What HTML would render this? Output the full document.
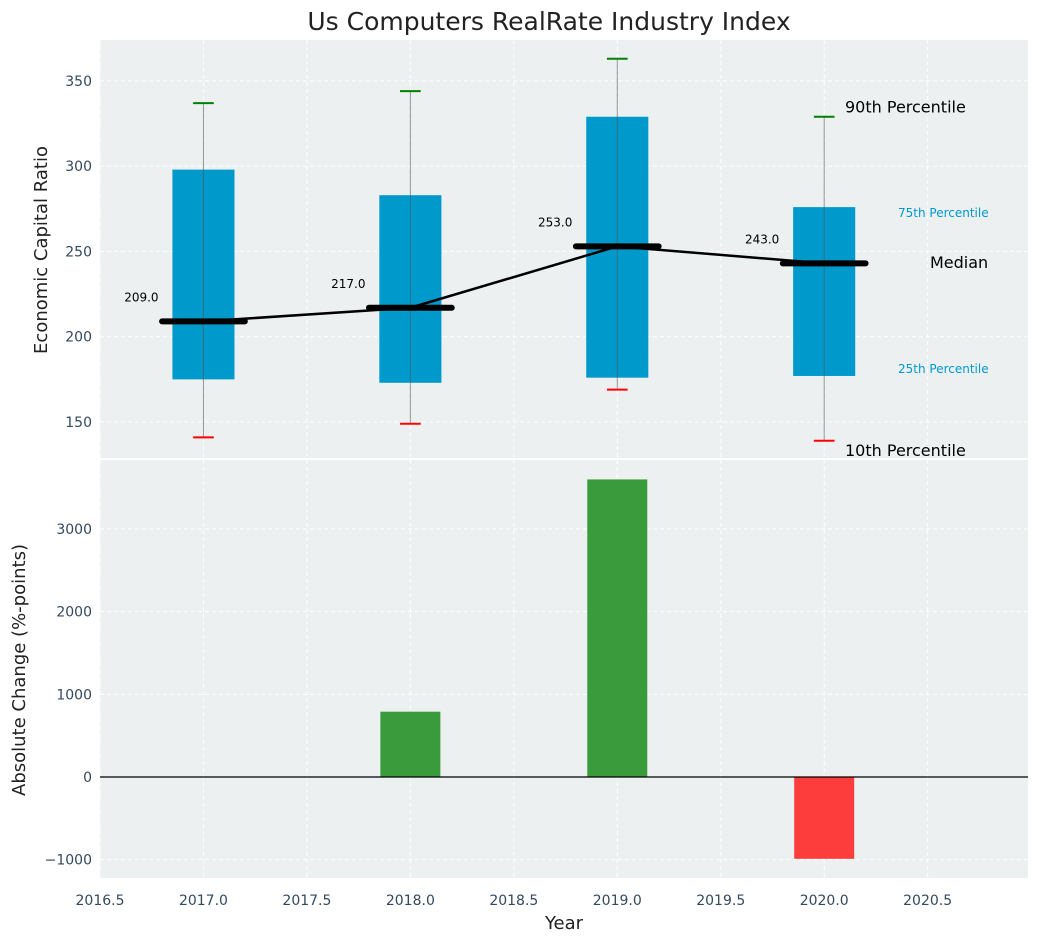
<!DOCTYPE html>
<html><head><meta charset="utf-8"><style>
body{margin:0;background:#fff;font-family:"Liberation Sans","DejaVu Sans",sans-serif}
</style></head><body>
<svg id="c" width="1039" height="942" xmlns="http://www.w3.org/2000/svg" font-family="DejaVu Sans, Liberation Sans, sans-serif"></svg>
<script>
const years=[2017,2018,2019,2020];
const p10=[141,149,169,139];
const q1=[175,173,176,177];
const med=[209,217,253,243];
const q3=[298,283,329,276];
const p90=[337,344,363,329];
const change=[0,790,3600,-990];
const xTicks=[2016.5,2017.0,2017.5,2018.0,2018.5,2019.0,2019.5,2020.0,2020.5];
const yTopTicks=[150,200,250,300,350];
const yBotTicks=[-1000,0,1000,2000,3000];
const NS='http://www.w3.org/2000/svg';
const svg=document.getElementById('c');
const L=100,R=1028,T1=40,B1=458,T2=460,B2=878;
const x=v=>L+(v-2016.5)/(2020.985-2016.5)*(R-L);
const y1=v=>T1+(374-v)/(374-128.9)*(B1-T1);
const y2=v=>T2+(3835-v)/(3835+1222)*(B2-T2);
function el(t,a,p){const e=document.createElementNS(NS,t);for(const k in a)e.setAttribute(k,a[k]);(p||svg).appendChild(e);return e;}
function txt(s,a){const e=el('text',a);e.textContent=s;return e;}
const bg1=el('rect',{x:L,y:T1,width:R-L,height:B1-T1,fill:'#ecf0f1'});


const bg2=el('rect',{x:L,y:T2,width:R-L,height:B2-T2,fill:'#ecf0f1'});


xTicks.forEach(v=>{
 [[T1,B1],[T2,B2]].forEach(([a,b])=>{
  const g=el('line',{x1:x(v),x2:x(v),y1:a,y2:b,stroke:'#fff','stroke-dasharray':'4,3','stroke-width':1});
  
  
 });
 const t=txt(v.toFixed(1),{x:x(v),y:B2+27,'text-anchor':'middle','font-size':14,fill:'#34495e'});
 
 
});
yTopTicks.forEach(v=>{
 const g=el('line',{x1:L,x2:R,y1:y1(v),y2:y1(v),stroke:'#fff','stroke-dasharray':'4,3'});
 
 
 const t=txt(v,{x:L-8,y:y1(v)+5,'text-anchor':'end','font-size':14,fill:'#34495e'});
 
 
});
yBotTicks.forEach(v=>{
 const g=el('line',{x1:L,x2:R,y1:y2(v),y2:y2(v),stroke:'#fff','stroke-dasharray':'4,3'});
 
 
 const t=txt(v<0?'\u2212'+(-v):v,{x:L-8,y:y2(v)+5,'text-anchor':'end','font-size':14,fill:'#34495e'});
 
 
});
years.forEach((yr,i)=>{
 const b=el('rect',{x:x(yr-0.15),y:y1(q3[i]),width:x(yr+0.15)-x(yr-0.15),height:y1(q1[i])-y1(q3[i]),fill:'#0099cc'});
 
 
 const w=el('line',{x1:x(yr),x2:x(yr),y1:y1(p90[i]),y2:y1(p10[i]),stroke:'#555','stroke-opacity':0.6,'stroke-width':1});
 
 
 const c1=el('line',{x1:x(yr-0.05),x2:x(yr+0.05),y1:y1(p90[i]),y2:y1(p90[i]),stroke:'green','stroke-width':2});
 
 
 const c2=el('line',{x1:x(yr-0.05),x2:x(yr+0.05),y1:y1(p10[i]),y2:y1(p10[i]),stroke:'red','stroke-width':2});
 
 
});
const pl=el('polyline',{points:years.map((yr,i)=>x(yr)+','+y1(med[i])).join(' '),fill:'none',stroke:'#000','stroke-width':2.5});


years.forEach((yr,i)=>{
 const m=el('line',{x1:x(yr-0.2),x2:x(yr+0.2),y1:y1(med[i]),y2:y1(med[i]),stroke:'#000','stroke-width':6,'stroke-linecap':'round'});
 
 
 const t=txt(med[i].toFixed(1),{x:x(yr-0.3),y:y1(med[i])-20,'text-anchor':'middle','font-size':12,fill:'#000'});
 
 
});
const ann=[['90th Percentile',845,y1(p90[3])-4,16,'#000'],['75th Percentile',898,217,12,'#0099cc'],['Median',930,268,16,'#000'],['25th Percentile',898,373,12,'#0099cc'],['10th Percentile',845,y1(p10[3])+15,16,'#000']];
ann.forEach(a=>{const t=txt(a[0],{x:a[1],y:a[2],'font-size':a[3],fill:a[4]});
 
 });
years.forEach((yr,i)=>{
 const v=change[i];if(!v)return;
 const b=el('rect',{x:x(yr-0.145),y:Math.min(y2(v),y2(0)),width:x(yr+0.145)-x(yr-0.145),height:Math.abs(y2(v)-y2(0)),fill:v>0?'#3a9b3c':'#fd3c3c'});
 
 
});
const z=el('line',{x1:L,x2:R,y1:y2(0),y2:y2(0),stroke:'#000','stroke-width':1.2});


const ti=txt('Us Computers RealRate Industry Index',{x:549,y:30,'text-anchor':'middle','font-size':25,fill:'#222'});


const xl=txt('Year',{x:564,y:929,'text-anchor':'middle','font-size':18,fill:'#222'});


const yl1=txt('Economic Capital Ratio',{x:0,y:0,'text-anchor':'middle','font-size':18,fill:'#222',transform:'translate(47,250) rotate(-90)'});


const yl2=txt('Absolute Change (%-points)',{x:0,y:0,'text-anchor':'middle','font-size':18,fill:'#222',transform:'translate(25,670) rotate(-90)'});


</script>
</body></html>
